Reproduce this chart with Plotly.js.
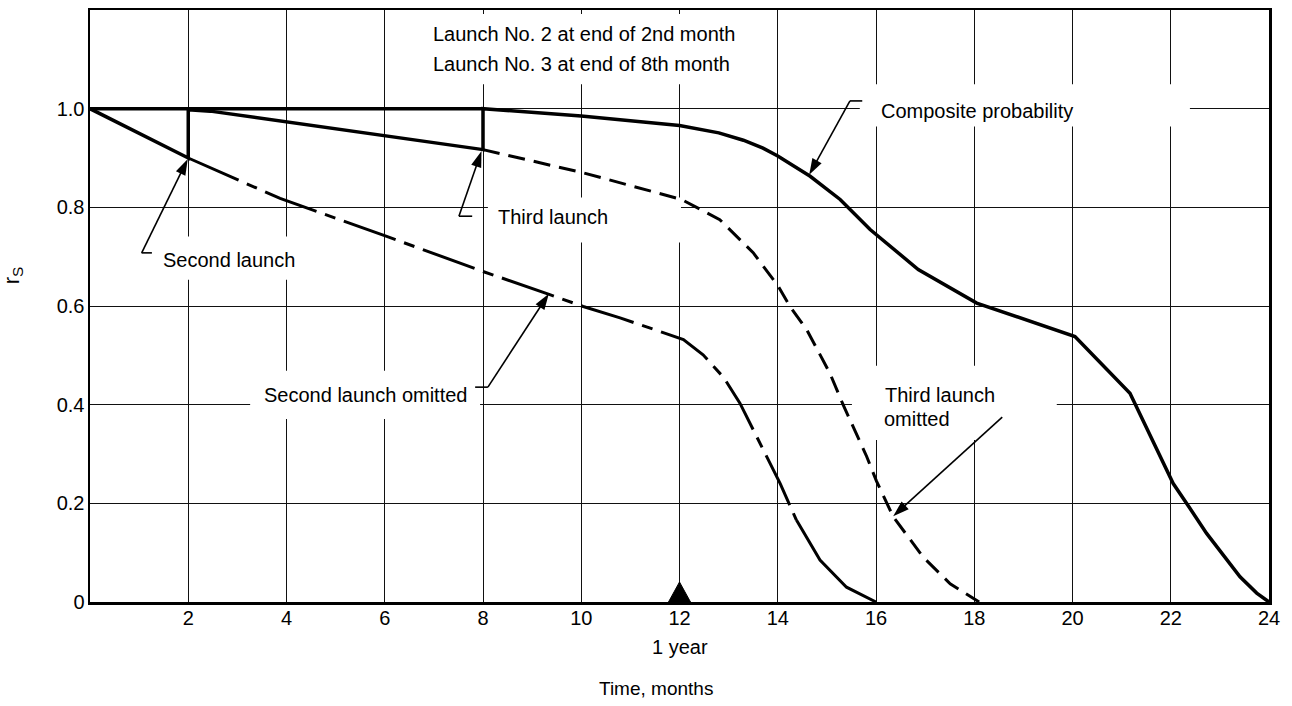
<!DOCTYPE html>
<html>
<head>
<meta charset="utf-8">
<script src="https://cdn.plot.ly/plotly-3.0.1.min.js"></script>
<style>
  html, body { margin: 0; padding: 0; background: #fff; }
  #chart { width: 1292px; height: 706px; }
</style>
</head>
<body>
<div id="chart"></div>
<script>
// Reliability r_S over time for a three-launch schedule (months).

// Composite probability: launches at end of month 2 and month 8
const compositeX = [0, 2, 2, 2.45, 8, 8, 10, 12, 12.8, 13.3, 13.7, 14.0, 14.66, 15.27, 15.88, 16.86, 18.05, 18.93, 20.05, 21.17, 22.05, 22.39, 22.73, 23.41, 23.75, 24];
const compositeY = [1.0, 0.9, 0.998, 0.995, 0.917, 1.0, 0.985, 0.966, 0.951, 0.936, 0.92, 0.904, 0.863, 0.816, 0.755, 0.674, 0.606, 0.576, 0.538, 0.423, 0.240, 0.19, 0.139, 0.051, 0.018, 0];

// Full reliability held through the first launch interval
const fullX = [0, 8];
const fullY = [1.0, 1.0];

// Second launch omitted (dash-dot part, then solid tail)
const omit2X = [2, 3.87, 6.04, 8.0, 9.36, 10.04, 10.79, 12.08, 12.48, 12.9, 13.23, 14.05, 14.38];
const omit2Y = [0.9, 0.818, 0.741, 0.670, 0.623, 0.599, 0.576, 0.532, 0.501, 0.455, 0.403, 0.240, 0.166];
const omit2TailX = [14.38, 14.86, 15.4, 15.88, 16];
const omit2TailY = [0.166, 0.085, 0.030, 0.007, 0];

// Third launch omitted
const omit3X = [8, 10.04, 12.04, 12.82, 13.5, 14.01, 14.25, 14.59, 15.06, 15.33, 15.81, 16.01, 16.35, 16.96, 17.51, 18.0, 18.1];
const omit3Y = [0.917, 0.870, 0.816, 0.775, 0.708, 0.640, 0.599, 0.552, 0.464, 0.400, 0.295, 0.245, 0.173, 0.091, 0.037, 0.005, 0];

// Axis ticks
const xTickVals = [2, 4, 6, 8, 10, 12, 14, 16, 18, 20, 22, 24];
const xTickText = ['2', '4', '6', '8', '10', '12', '14', '16', '18', '20', '22', '24'];
const yTickVals = [0, 0.2, 0.4, 0.6, 0.8, 1.0];
const yTickText = ['0', '0.2', '0.4', '0.6', '0.8', '1.0'];

// One-year marker
const yearMark = 12;

// ---- layout geometry ----
const W = 1292, H = 706;
const M = { l: 90, r: 23, t: 10, b: 104 };
const X_RANGE = [0, 24], Y_RANGE = [0, 1.2];
const plotW = W - M.l - M.r, plotH = H - M.t - M.b;
const pxPerX = plotW / (X_RANGE[1] - X_RANGE[0]);
const pxPerY = plotH / (Y_RANGE[1] - Y_RANGE[0]);

const FONT = 'Liberation Sans, Arial, sans-serif';
const INK = '#000';

// triangle marker sitting on the time axis at the one-year point
const triHalfW = 11 / pxPerX, triH = 20 / pxPerY;
const triX = [yearMark - triHalfW, yearMark + triHalfW, yearMark, yearMark - triHalfW];
const triY = [0, 0, triH, 0];

// leader line from a label hook to the curve, ending in an arrowhead
function leader(tx, ty, hx, hy) {
  return { x: [tx, hx], y: [ty, hy], mode: 'lines+markers', hoverinfo: 'skip',
           line: { color: INK, width: 1.6 },
           marker: { symbol: 'arrow', angleref: 'previous', size: [0, 17], color: INK,
                     opacity: 1, line: { width: 0 } } };
}

const traces = [
  { x: fullX, y: fullY, mode: 'lines', line: { color: INK, width: 3.5 }, hoverinfo: 'skip' },
  { x: omit2X, y: omit2Y, mode: 'lines', line: { color: INK, width: 3, dash: '55px,9px,11px,9px' }, hoverinfo: 'skip' },
  { x: omit2TailX, y: omit2TailY, mode: 'lines', line: { color: INK, width: 3 }, hoverinfo: 'skip' },
  { x: omit3X, y: omit3Y, mode: 'lines', line: { color: INK, width: 3, dash: '17px,9px' }, hoverinfo: 'skip' },
  { x: compositeX, y: compositeY, mode: 'lines', line: { color: INK, width: 3.5 }, hoverinfo: 'skip' },
  { x: triX, y: triY, mode: 'lines', fill: 'toself', fillcolor: INK, line: { color: INK, width: 1 }, hoverinfo: 'skip' },
  leader(1.052, 0.7077, 1.99, 0.898),
  leader(7.51, 0.782, 7.97, 0.914),
  leader(15.47, 1.0157, 14.64, 0.866),
  leader(8.10, 0.4355, 9.34, 0.625),
  leader(18.57, 0.3746, 16.35, 0.174)
];

// white patches that interrupt the grid behind the labels
function patch(x0, x1, y0, y1) {
  return { type: 'rect', xref: 'x', yref: 'y', x0, x1, y0, y1, layer: 'between',
           fillcolor: '#fff', line: { width: 0 } };
}
// short horizontal hooks at the tail of each leader
function hook(x0, x1, y) {
  return { type: 'line', xref: 'x', yref: 'y', x0, x1, y0: y, y1: y, layer: 'above',
           line: { color: INK, width: 1.6 } };
}
function label(text, x, y, yanchor) {
  return { text, x, y, xref: 'x', yref: 'y', xanchor: 'left', yanchor: yanchor || 'middle',
           showarrow: false, borderpad: 0, font: { family: FONT, size: 20, color: INK } };
}

const shapes = [
  patch(6.82, 13.43, 1.0496, 1.1918),
  patch(1.34, 4.19, 0.6533, 0.7408),
  patch(8.10, 12.03, 0.7287, 0.8201),
  patch(15.67, 22.39, 0.9636, 1.0494),
  patch(3.26, 7.94, 0.3711, 0.4686),
  patch(15.51, 19.68, 0.3284, 0.4788),
  hook(1.05, 1.26, 0.7077),
  hook(7.51, 7.78, 0.782),
  hook(15.47, 15.72, 1.0157),
  hook(7.84, 8.10, 0.4355)
];

const annotations = [
  label('Launch No. 2 at end of 2nd month', 6.96, 1.152),
  label('Launch No. 3 at end of 8th month', 6.96, 1.091),
  label('Second launch', 1.458, 0.694),
  label('Third launch', 8.29, 0.781),
  label('Composite probability', 16.08, 0.996),
  label('Second launch omitted', 3.53, 0.419),
  label('Third launch', 16.17, 0.3955, 'bottom'),
  label('omitted', 16.15, 0.3945, 'top'),
  { text: '1 year', x: yearMark, y: 0, xref: 'x', yref: 'paper', yshift: -45,
    xanchor: 'center', yanchor: 'middle', showarrow: false,
    font: { family: FONT, size: 20, color: INK } },
  { text: 'Time, months', x: 0.48, y: 0, xref: 'paper', yref: 'paper', yshift: -86,
    xanchor: 'center', yanchor: 'middle', showarrow: false,
    font: { family: FONT, size: 19, color: INK } },
  { text: 'r<sub>S</sub>', x: -0.0653, y: 0.552, xref: 'paper', yref: 'paper',
    xanchor: 'center', yanchor: 'middle', textangle: -90, showarrow: false,
    font: { family: FONT, size: 22, color: INK } }
];

const axisCommon = {
  showgrid: true, gridcolor: '#111', gridwidth: 1,
  showline: true, linecolor: INK, linewidth: 2.5, mirror: true,
  zeroline: false, ticks: '', fixedrange: true,
  tickfont: { family: FONT, size: 20, color: INK }
};

const layout = {
  width: W, height: H,
  margin: M,
  paper_bgcolor: '#fff', plot_bgcolor: '#fff',
  showlegend: false,
  font: { family: FONT, color: INK },
  xaxis: Object.assign({}, axisCommon, {
    range: X_RANGE, tickmode: 'array', tickvals: xTickVals, ticktext: xTickText,
    ticklabelstandoff: -4
  }),
  yaxis: Object.assign({}, axisCommon, {
    range: Y_RANGE, tickmode: 'array', tickvals: yTickVals, ticktext: yTickText,
    ticklabelstandoff: -1
  }),
  shapes, annotations
};

Plotly.newPlot('chart', traces, layout, { displayModeBar: false, staticPlot: true });
</script>
</body>
</html>
